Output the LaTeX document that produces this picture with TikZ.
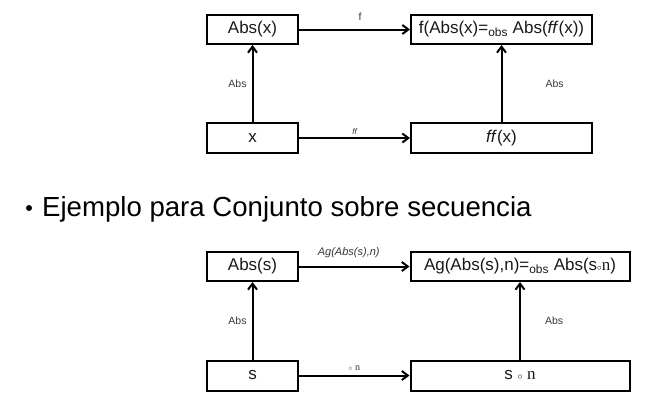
\documentclass[tikz,border=0pt]{standalone}
\usepackage{fontspec}
\setmainfont{Liberation Sans}
\newfontfamily\serifn{Liberation Serif}
\usetikzlibrary{arrows.meta}
\definecolor{txt}{RGB}{25,25,25}
\definecolor{lbl}{RGB}{55,55,55}
\begin{document}
\begin{tikzpicture}[x=1pt,y=-1pt,
  bx/.style={draw=black,line width=2pt,rectangle,inner sep=0pt,text=txt,font=\fontsize{17}{17}\selectfont},
  conn/.style={line width=2pt,-{Straight Barb[length=6pt,width=9pt,line width=2pt]}},
  lab/.style={text=lbl,font=\fontsize{10.5}{10.5}\selectfont,inner sep=0pt}]
\useasboundingbox (0,0) rectangle (662,418);
% first diagram
\node[bx,minimum width=91pt,minimum height=29pt] (ax) at (252.5,29.5) {Abs(x)};
\node[bx,minimum width=181pt,minimum height=29pt] (fa) at (501.5,29.5) {f(Abs(x)=\textsubscript{obs} Abs(\textit{ff}(x))};
\node[bx,minimum width=91pt,minimum height=30pt] (x) at (252.5,138) {x};
\node[bx,minimum width=181pt,minimum height=30pt] (ffx) at (501.5,138) {\textit{ff}(x)};
\draw[conn] (ax) -- (fa) node[lab,pos=0.55,above=8pt] {f};
\draw[conn] (x) -- (ffx) node[lab,pos=0.5,above=3pt,font=\fontsize{8}{8}\selectfont\itshape] {ff};
\draw[conn] (x) -- (ax) node[lab,midway,left=5pt] {Abs};
\draw[conn] (ffx) -- (fa) node[lab,midway,right=43pt] {Abs};
% bullet
\node[circle,fill=black,inner sep=0pt,minimum size=6pt] (bul) at (29,208) {};
\node[anchor=base west,inner sep=0pt,text=black,font=\fontsize{27.6}{27.6}\selectfont] (t) at (42,216) {Ejemplo para Conjunto sobre secuencia};
% second diagram
\node[bx,minimum width=91pt,minimum height=29pt] (as) at (252.5,266.5) {Abs(s)};
\node[bx,minimum width=219pt,minimum height=29pt] (ag) at (520,266.5) {Ag(Abs(s),n)=\textsubscript{obs} Abs(s{\small$\circ$}{\serifn n})};
\node[bx,minimum width=91pt,minimum height=30pt] (s) at (252.5,375.5) {s};
\node[bx,minimum width=219pt,minimum height=30pt] (sn) at (520,375.5) {s {\normalsize$\circ$} {\serifn n}};
\draw[conn] (as) -- (ag) node[lab,pos=0.45,above=8pt,font=\fontsize{11}{11}\selectfont\itshape] {Ag(Abs(s),n)};
\draw[conn] (s) -- (sn) node[lab,pos=0.5,above=4pt,font=\fontsize{10}{10}\selectfont] {{\scriptsize$\circ$} {\serifn n}};
\draw[conn] (s) -- (as) node[lab,midway,left=5pt] {Abs};
\draw[conn] (sn) -- (ag) node[lab,midway,right=24pt] {Abs};
\end{tikzpicture}
\end{document}
